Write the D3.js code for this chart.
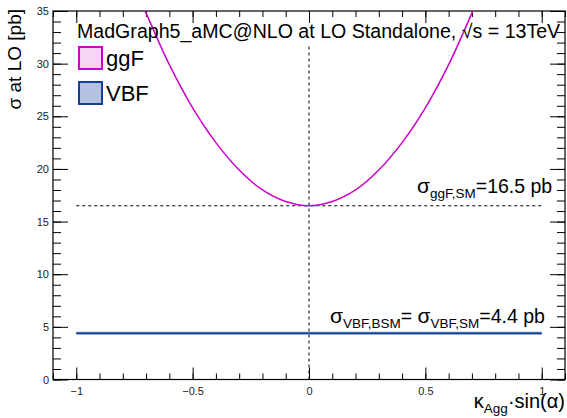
<!DOCTYPE html>
<html>
<head>
<meta charset="utf-8">
<script src="https://cdn.jsdelivr.net/npm/d3@7"></script>
<style>
  body { margin: 0; background: #fff; }
  text { font-family: "Liberation Sans", Arial, sans-serif; }
</style>
</head>
<body>
<div id="chart"></div>
<script>
// values
var ggfX = [-0.72, -0.7, -0.6, -0.5, -0.4, -0.3, -0.2, -0.1, 0, 0.1, 0.2, 0.3, 0.4, 0.5, 0.6, 0.7, 0.72];
var ggfY = [35.8, 34.8, 29.9, 25.8, 22.5, 19.9, 18.0, 16.9, 16.5, 16.9, 18.0, 19.9, 22.5, 25.8, 29.9, 34.8, 35.8];
var vbfX = [-1, 1];
var vbfY = [4.4, 4.4];
var smX = [-1, 1];
var smGgF = 16.5;
var vlineY = [0, 31.7];
var xTicks = [-1, -0.5, 0, 0.5, 1];
var yTicks = [0, 5, 10, 15, 20, 25, 30, 35];

var W = 567, H = 418;
var fL = 53, fR = 565, fT = 11, fB = 379.5;

var svg = d3.select("#chart").append("svg")
  .attr("width", W).attr("height", H);

var x = d3.scaleLinear().domain([-1.1, 1.1]).range([fL, fR]);
var y = d3.scaleLinear().domain([0, 35]).range([fB, fT]);

// clip to frame
svg.append("clipPath").attr("id", "frame")
  .append("rect").attr("x", fL).attr("y", fT)
  .attr("width", fR - fL).attr("height", fB - fT);

var minorX = d3.range(-1.1, 1.1001, 0.1).map(function(d){ return Math.round(d*10)/10; });
var minorY = d3.range(0, 35.001, 1);

function styleAxis(g) {
  g.select(".domain").remove();
  g.selectAll("line").attr("stroke", "#000").attr("stroke-width", 1);
  g.selectAll("text").attr("fill", "#222").style("font-size", "11px");
}

// bottom axis
svg.append("g").attr("transform", "translate(0," + fB + ")")
  .call(d3.axisBottom(x).tickValues(minorX).tickSize(-6).tickFormat(""))
  .call(styleAxis);
svg.append("g").attr("transform", "translate(0," + fB + ")")
  .call(d3.axisBottom(x).tickValues(xTicks).tickSize(-12).tickPadding(8)
    .tickFormat(function(d){ return d3.format("")(d).replace("-", "\u2212"); }))
  .call(styleAxis);
// top axis
svg.append("g").attr("transform", "translate(0," + fT + ")")
  .call(d3.axisTop(x).tickValues(minorX).tickSize(-6).tickFormat(""))
  .call(styleAxis);
svg.append("g").attr("transform", "translate(0," + fT + ")")
  .call(d3.axisTop(x).tickValues(xTicks).tickSize(-12).tickFormat(""))
  .call(styleAxis);
// left axis
svg.append("g").attr("transform", "translate(" + fL + ",0)")
  .call(d3.axisLeft(y).tickValues(minorY).tickSize(-8).tickFormat(""))
  .call(styleAxis);
svg.append("g").attr("transform", "translate(" + fL + ",0)")
  .call(d3.axisLeft(y).tickValues(yTicks).tickSize(-15).tickPadding(4))
  .call(styleAxis);
// right axis
svg.append("g").attr("transform", "translate(" + fR + ",0)")
  .call(d3.axisRight(y).tickValues(minorY).tickSize(-8).tickFormat(""))
  .call(styleAxis);
svg.append("g").attr("transform", "translate(" + fR + ",0)")
  .call(d3.axisRight(y).tickValues(yTicks).tickSize(-15).tickFormat(""))
  .call(styleAxis);

// frame
svg.append("rect")
  .attr("x", fL).attr("y", fT)
  .attr("width", fR - fL).attr("height", fB - fT)
  .attr("fill", "none").attr("stroke", "#000").attr("stroke-width", 1.2);

var plot = svg.append("g").attr("clip-path", "url(#frame)");

// SM ggF reference (dashed)
plot.append("line")
  .attr("x1", x(smX[0])).attr("x2", x(smX[1]))
  .attr("y1", y(smGgF)).attr("y2", y(smGgF))
  .attr("stroke", "#000").attr("stroke-width", 1)
  .attr("stroke-dasharray", "3,3");

// vertical dashed at 0
plot.append("line")
  .attr("x1", x(0)).attr("x2", x(0))
  .attr("y1", y(vlineY[0])).attr("y2", y(vlineY[1]))
  .attr("stroke", "#000").attr("stroke-width", 1)
  .attr("stroke-dasharray", "3,3");

// ggF curve
var line = d3.line()
  .x(function(d){ return x(d[0]); })
  .y(function(d){ return y(d[1]); })
  .curve(d3.curveCatmullRom);
plot.append("path")
  .datum(d3.zip(ggfX, ggfY))
  .attr("d", line)
  .attr("fill", "none").attr("stroke", "#cc00cc").attr("stroke-width", 1.5);

// VBF line
var flat = d3.line().x(function(d){ return x(d[0]); }).y(function(d){ return y(d[1]); });
plot.append("path")
  .datum(d3.zip(vbfX, vbfY))
  .attr("d", flat)
  .attr("fill", "none").attr("stroke", "#7d96cc").attr("stroke-width", 3);
plot.append("path")
  .datum(d3.zip(vbfX, vbfY))
  .attr("d", flat)
  .attr("fill", "none").attr("stroke", "#163f94").attr("stroke-width", 1.5);

// header text
svg.append("text")
  .attr("x", 77).attr("y", 38)
  .style("font-size", "19.6px")
  .text("MadGraph5_aMC@NLO at LO Standalone, \u221As = 13TeV");

// legend
var legend = [
  {name: "ggF", fill: "#f7d3f4", stroke: "#cc00cc", y: 47},
  {name: "VBF", fill: "#b3c2e0", stroke: "#163f94", y: 82}
];
legend.forEach(function(l) {
  svg.append("rect")
    .attr("x", 79).attr("y", l.y).attr("width", 23).attr("height", 22)
    .attr("fill", l.fill).attr("stroke", l.stroke).attr("stroke-width", 2);
  svg.append("text")
    .attr("x", 106).attr("y", l.y + 19)
    .style("font-size", "22px")
    .text(l.name);
});

// annotations
function sub(t, main, s) {
  t.append("tspan").style("font-size", "21px").text(main);
  t.append("tspan").style("font-size", "13.5px").attr("dy", 5).text(s);
  return t;
}
var a1 = svg.append("text").attr("x", 417).attr("y", 193);
sub(a1, "\u03C3", "ggF,SM");
a1.append("tspan").attr("dy", -5).style("font-size", "19.5px").text("=16.5 pb");

var a2 = svg.append("text").attr("x", 330).attr("y", 323);
sub(a2, "\u03C3", "VBF,BSM");
a2.append("tspan").attr("dy", -5).style("font-size", "19.5px").text("= ");
sub(a2, "\u03C3", "VBF,SM");
a2.append("tspan").attr("dy", -5).style("font-size", "19.5px").text("=4.4 pb");

// axis titles
var xt = svg.append("text")
  .attr("x", fR).attr("y", 408)
  .attr("text-anchor", "end");
xt.append("tspan").style("font-size", "20px").text("\u03BA");
xt.append("tspan").style("font-size", "13.5px").attr("dy", 5).text("Agg");
xt.append("tspan").style("font-size", "20px").attr("dy", -5).text("\u00B7sin(\u03B1)");

svg.append("text")
  .attr("transform", "translate(21,9) rotate(-90)")
  .attr("text-anchor", "end")
  .style("font-size", "19px")
  .text("\u03C3 at LO [pb]");
</script>
</body>
</html>
